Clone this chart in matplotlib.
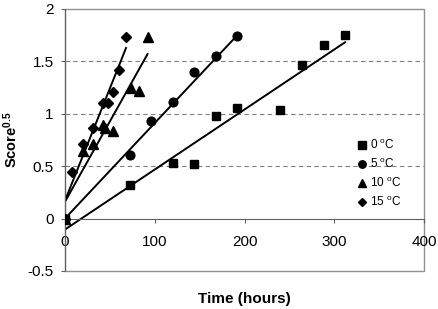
import matplotlib
matplotlib.use("Agg")
import matplotlib.pyplot as plt
import numpy as np
from matplotlib.patches import Rectangle

plt.rcParams['font.family'] = ['Liberation Sans', 'DejaVu Sans']
plt.rcParams['mathtext.fontset'] = 'custom'
plt.rcParams['mathtext.rm'] = 'Liberation Sans'
plt.rcParams['mathtext.bf'] = 'Liberation Sans:bold'
plt.rcParams['mathtext.it'] = 'Liberation Sans:italic'

# Data (time in hours, Score^0.5)
t0 = [0, 72, 120, 144, 168, 192, 240, 264, 288, 312]
s0 = [0.0, 0.315, 0.53, 0.52, 0.98, 1.05, 1.03, 1.466, 1.65, 1.745]
t5 = [0, 72, 96, 120, 144, 168, 192]
s5 = [0.0, 0.61, 0.93, 1.115, 1.40, 1.545, 1.74]
t10 = [0, 20, 31, 42, 45, 53, 73, 83, 92]
s10 = [0.0, 0.64, 0.71, 0.89, 0.86, 0.835, 1.24, 1.22, 1.73]
t15 = [0, 8, 20, 31, 42, 48, 53, 60, 68]
s15 = [0.0, 0.445, 0.71, 0.866, 1.10, 1.10, 1.21, 1.42, 1.73]

# Fitted lines: (intercept, slope, x_end)
fit0 = (-0.105, 0.00572, 312)
fit5 = (0.0, 0.00910, 192)
fit10 = (0.16, 0.0153, 92)
fit15 = (0.17, 0.0214, 68)

labels = [r'0 $^{\rm o}$C', r'5 $^{\rm o}$C', r'10 $^{\rm o}$C', r'15 $^{\rm o}$C']

fig = plt.figure(figsize=(4.39, 3.09), dpi=100)
ax = fig.add_axes([0.148, 0.123, 0.818, 0.849])

ax.set_xlim(0, 400)
ax.set_ylim(-0.5, 2)

for y in [0.5, 1.0, 1.5]:
    ax.axhline(y, color='#808080', lw=0.8, ls=(0, (4, 3)), zorder=1)

series = [(t0, s0, 's', fit0), (t5, s5, 'o', fit5), (t10, s10, '^', fit10), (t15, s15, 'D', fit15)]
ms = {'s': 6.0, 'o': 6.3, '^': 6.8, 'D': 5.2}
handles = []
for (t, s, m, fit), lab in zip(series, labels):
    h, = ax.plot(t, s, ls='none', marker=m, ms=ms[m], color='black', label=lab, zorder=3)
    handles.append(h)
    b, a, xe = fit
    xx = np.array([0, xe])
    ax.plot(xx, b + a * xx, color='black', lw=1.4, zorder=2)

for sp in ['top', 'right']:
    ax.spines[sp].set_visible(False)
ax.spines['bottom'].set_position(('data', 0))
ax.spines['bottom'].set_color('#606060')
ax.spines['left'].set_color('#606060')
ax.add_patch(Rectangle((0, 0), 1, 1, transform=ax.transAxes, fill=False,
                       edgecolor='#909090', lw=1.0, clip_on=False, zorder=0))

ax.set_xticks([0, 100, 200, 300, 400])
ax.set_yticks([-0.5, 0, 0.5, 1, 1.5, 2])
ax.set_yticklabels(['-0.5', '0', '0.5', '1', '1.5', '2'])
ax.tick_params(axis='both', labelsize=11, direction='out', length=3, width=0.8, color='#606060')
ax.tick_params(axis='x', pad=9)
ax.tick_params(axis='y', pad=5)

ax.set_xlabel('Time (hours)', fontsize=11, fontweight='bold')
ax.set_ylabel(r'Score$^{\mathbf{0.5}}$', fontsize=10.5, fontweight='bold')
ax.xaxis.set_label_coords(0.5, -0.08)
ax.yaxis.set_label_coords(-0.125, 0.5)

ax.legend(handles=handles, loc='center left', bbox_to_anchor=(0.80, 0.37), frameon=False,
          fontsize=8.5, handlelength=0.8, handletextpad=0.3, labelspacing=0.45,
          borderaxespad=0, markerscale=0.85)

fig.savefig('out.png', dpi=100)
